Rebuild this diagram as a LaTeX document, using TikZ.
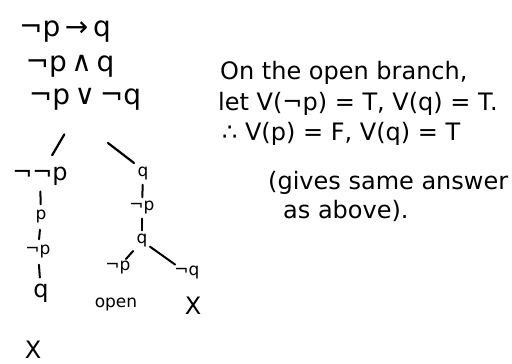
\documentclass[tikz,border=0pt]{standalone}
\usepackage{fontspec}
\setmainfont{DejaVu Sans}
\begin{document}
\begin{tikzpicture}[x=1pt,y=-1pt,
  big/.style={font=\fontsize{24}{28}\selectfont, inner sep=0pt},
  prem/.style={font=\fontsize{28}{32}\selectfont, inner sep=0pt},
  sm/.style={font=\fontsize{17}{20}\selectfont, inner sep=0pt},
  note/.style={font=\fontsize{24}{27}\selectfont, inner sep=0pt, anchor=west},
  br/.style={line width=2.2pt, line cap=round},
  tick/.style={line width=2pt, line cap=round, shorten <=6pt, shorten >=6pt},
  diag/.style={line width=2pt, line cap=round, shorten <=3pt, shorten >=3pt}]
\useasboundingbox (0,0) rectangle (512,364);
% premises
\node[prem] (f1) at (65,32) {¬p\,→\,q};
\node[prem] (f2) at (70,66) {¬p\,∧\,q};
\node[prem] (f3) at (85,99) {¬p\,∨\,¬q};
% left branch
\node[big] (L1) at (40,176) {¬¬p};
\node[sm] (L2) at (41,217) {p};
\node[sm] (L3) at (38,252) {¬p};
\node[big] (L4) at (41,293) {q};
\node[big] (L5) at (33,350) {X};
% right branch
\node[sm] (R1) at (143,174) {q};
\node[sm] (R2) at (142,208) {¬p};
\node[sm] (R3) at (142,241) {q};
\node[sm] (R4) at (118,268) {¬p};
\node[sm] (R5) at (187,273) {¬q};
\node[sm] (R6) at (116,305) {open};
\node[big] (R7) at (193,306) {X};
% connectors
\draw[br, shorten <=41pt, shorten >=24pt] (f3.center) -- (L1.center);
\draw[br] ([shift={(23,44)}]f3.center) -- ([shift={(-9,-11)}]R1.center);
\draw[tick] (L1) -- (L2);
\draw[tick] (L2) -- (L3);
\draw[tick] (L3) -- (L4);
\draw[tick, shorten <=4pt, shorten >=4pt] (R1) -- (R2);
\draw[tick, shorten <=4pt, shorten >=4pt] (R2) -- (R3);
\draw[diag, shorten <=5pt] (R3) -- (R4);
\draw[diag] (R3) -- (R5);
% notes
\node[note] (n1) at (220,73) {On the open branch,};
\node[note] (n2) at (218,104) {let V(¬p) = T, V(q) = T.};
\node[note] (n3) at (222,134) {∴ V(p) = F, V(q) = T};
\node[note] (n4) at (268,183) {(gives same answer};
\node[note] (n5) at (283,211) {as above).};
\end{tikzpicture}
\end{document}
